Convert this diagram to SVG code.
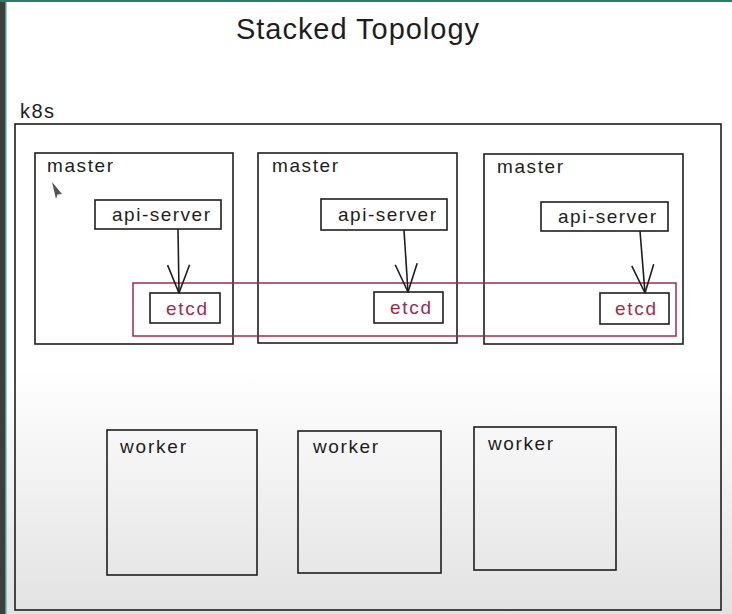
<svg xmlns="http://www.w3.org/2000/svg" width="732" height="614" viewBox="0 0 732 614">
  <defs>
    <linearGradient id="bg" x1="0" y1="0" x2="0" y2="1">
      <stop offset="0" stop-color="#ffffff"/>
      <stop offset="0.6" stop-color="#ffffff"/>
      <stop offset="1" stop-color="#e2e2e2"/>
    </linearGradient>
    <marker id="head" markerUnits="userSpaceOnUse" markerWidth="32" markerHeight="26" viewBox="0 0 32 26" refX="29" refY="13" orient="auto">
      <path d="M1,2 L29,13 L1,24" fill="none" stroke="#1e1e1e" stroke-width="1.6" stroke-linejoin="round"/>
    </marker>
    <style>
      .box { fill: none; stroke: #1e1e1e; stroke-width: 1.6; }
      .red { fill: none; stroke: #a3294f; stroke-width: 1.5; }
      .lbl { font-family: "Liberation Sans", "Open Sans", sans-serif; fill: #1e1e1e; }
      .etcd { font-family: "Liberation Sans", "Open Sans", sans-serif; fill: #a3294f; font-size: 19px; }
      .conn { stroke: #1e1e1e; stroke-width: 1.6; fill: none; }
    </style>
  </defs>

  <!-- background -->
  <rect x="0" y="0" width="732" height="614" fill="url(#bg)"/>
  <rect x="0" y="0" width="5" height="614" fill="#3b403d"/>
  <rect x="5" y="0" width="1.5" height="614" fill="#4f9c8c"/>
  <rect x="0" y="0" width="732" height="2" fill="#2f7a68"/>

  <!-- title -->
  <text class="lbl" x="236" y="39" font-size="29" textLength="243">Stacked Topology</text>

  <!-- k8s cluster -->
  <g id="k8s">
    <text class="lbl" x="20" y="118" font-size="20" textLength="34">k8s</text>
    <rect class="box" x="15" y="124" width="706" height="486"/>
  </g>

  <!-- masters -->
  <g id="master1">
    <rect class="box" x="35" y="153" width="198" height="191"/>
    <text class="lbl" x="47" y="172" font-size="19" textLength="66">master</text>
  </g>
  <g id="master2">
    <rect class="box" x="258" y="153" width="199" height="190"/>
    <text class="lbl" x="272" y="172" font-size="19" textLength="66">master</text>
  </g>
  <g id="master3">
    <rect class="box" x="484" y="154" width="199" height="190"/>
    <text class="lbl" x="497" y="173" font-size="19" textLength="66">master</text>
  </g>

  <!-- api-servers -->
  <g id="api1">
    <rect class="box" x="95" y="200" width="126" height="29"/>
    <text class="lbl" x="112" y="221" font-size="19" textLength="98">api-server</text>
  </g>
  <g id="api2">
    <rect class="box" x="321" y="199" width="126" height="31"/>
    <text class="lbl" x="338" y="221" font-size="19" textLength="98">api-server</text>
  </g>
  <g id="api3">
    <rect class="box" x="541" y="202" width="127" height="29"/>
    <text class="lbl" x="558" y="223" font-size="19" textLength="98">api-server</text>
  </g>

  <!-- etcd group -->
  <g id="etcd-cluster">
    <rect class="red" x="133" y="283" width="543" height="53"/>
  </g>
  <g id="etcd1">
    <rect class="box" x="150" y="293" width="70" height="30"/>
    <text class="etcd" x="166" y="315" textLength="41">etcd</text>
  </g>
  <g id="etcd2">
    <rect class="box" x="374" y="292" width="69" height="31"/>
    <text class="etcd" x="390" y="314" textLength="41">etcd</text>
  </g>
  <g id="etcd3">
    <rect class="box" x="600" y="293" width="69" height="31"/>
    <text class="etcd" x="615" y="315" textLength="41">etcd</text>
  </g>

  <!-- workers -->
  <g id="worker1">
    <rect class="box" x="107" y="430" width="150" height="145"/>
    <text class="lbl" x="120" y="453" font-size="19" textLength="66">worker</text>
  </g>
  <g id="worker2">
    <rect class="box" x="298" y="431" width="143" height="142"/>
    <text class="lbl" x="313" y="453" font-size="19" textLength="65">worker</text>
  </g>
  <g id="worker3">
    <rect class="box" x="474" y="427" width="142" height="143"/>
    <text class="lbl" x="488" y="450" font-size="19" textLength="65">worker</text>
  </g>

  <!-- connectors -->
  <g id="connectors">
    <line class="conn" x1="178" y1="229" x2="179" y2="293" marker-end="url(#head)"/>
    <line class="conn" x1="404" y1="230" x2="408" y2="292" marker-end="url(#head)"/>
    <line class="conn" x1="640" y1="231" x2="645" y2="293" marker-end="url(#head)"/>
  </g>

  <!-- mouse cursor -->
  <path d="M52,182 L62,194 L57.5,194.5 L56,199 Z" fill="#555555"/>
</svg>
